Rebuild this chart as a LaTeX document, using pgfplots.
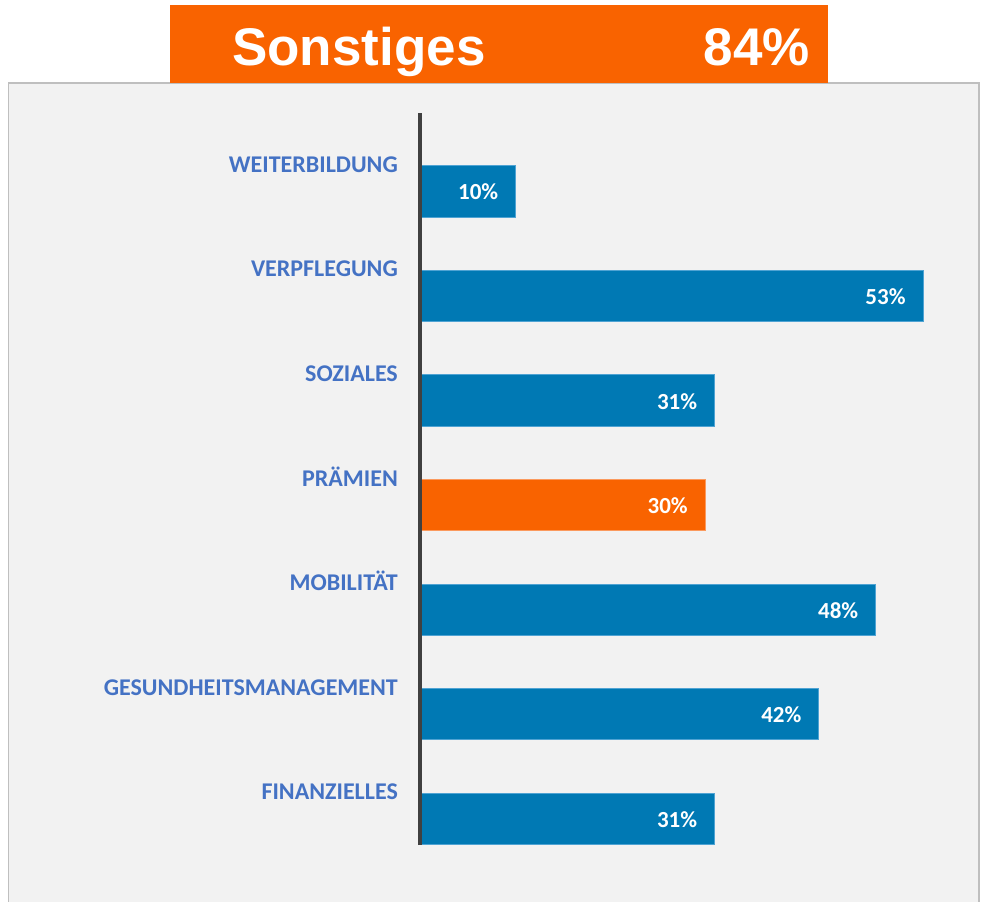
\documentclass[border=0pt]{standalone}
\usepackage{pgfplots}
\pgfplotsset{compat=1.18}
\usepackage{fontspec}
\setmainfont{Carlito}
\newfontfamily\arialfont{Liberation Sans}
\definecolor{barblue}{HTML}{0079B4}
\definecolor{barblueedge}{HTML}{4FA3D3}
\definecolor{barorange}{HTML}{F96300}
\definecolor{barorangeedge}{HTML}{FB9A5E}
\definecolor{labelblue}{HTML}{4472C4}
\definecolor{panelbg}{HTML}{F2F2F2}
\definecolor{paneledge}{HTML}{BFBFBF}
\definecolor{axisgray}{HTML}{404040}
\begin{document}
\begin{tikzpicture}
\useasboundingbox (0,0) rectangle (981bp,-902bp);
\begin{scope}
\clip (0,0) rectangle (981bp,-902bp);
\filldraw[fill=panelbg, draw=paneledge, line width=1.5bp] (8.5bp,-83bp) rectangle (979bp,-920bp);
\end{scope}
\fill[barorange] (170bp,-5bp) rectangle (828bp,-83bp);
\node[anchor=base west, inner sep=0pt, text=white, font=\arialfont\bfseries\fontsize{53bp}{60bp}\selectfont] at (232bp,-65bp) {Sonstiges};
\node[anchor=base east, inner sep=0pt, text=white, font=\arialfont\bfseries\fontsize{53bp}{60bp}\selectfont] at (810bp,-65bp) {84\%};
\begin{axis}[
 at={(421bp,-113bp)}, anchor=north west,
 scale only axis, width=521bp, height=732bp,
 xmin=0, xmax=55, ymin=-0.5, ymax=6.5, y dir=reverse,
 xbar, bar width=0.49, bar shift=0pt,
 /pgf/number format/assume math mode=true,
 axis x line=none, axis y line*=left,
 axis line style={draw=none},
 ytick={0,...,6},
 yticklabels={WEITERBILDUNG,VERPFLEGUNG,SOZIALES,PRÄMIEN,MOBILITÄT,GESUNDHEITSMANAGEMENT,FINANZIELLES},
 major tick length=0pt,
 yticklabel style={anchor=base east, inner sep=0pt, xshift=-23bp, yshift=-7bp, text=labelblue, font=\bfseries\fontsize{24bp}{28bp}\selectfont},
 nodes near coords={\pgfmathprintnumber{\pgfplotspointmeta}\%},
 every node near coord/.append style={anchor=base east, inner sep=0pt, xshift=-17bp, yshift=-8.5bp, text=white, font=\bfseries\fontsize{23bp}{28bp}\selectfont},
 clip=false,
]
\addplot[fill=barblue, draw=barblueedge, line width=1bp] coordinates {(10,0.25) (53,1.25) (31,2.25) (48,4.25) (42,5.25) (31,6.25)};
\addplot[fill=barorange, draw=barorangeedge, line width=1bp] coordinates {(30,3.25)};
\draw[axisgray, line width=4bp] ([xshift=-1bp]rel axis cs:0,0) -- ([xshift=-1bp]rel axis cs:0,1);
\end{axis}
\end{tikzpicture}
\end{document}
